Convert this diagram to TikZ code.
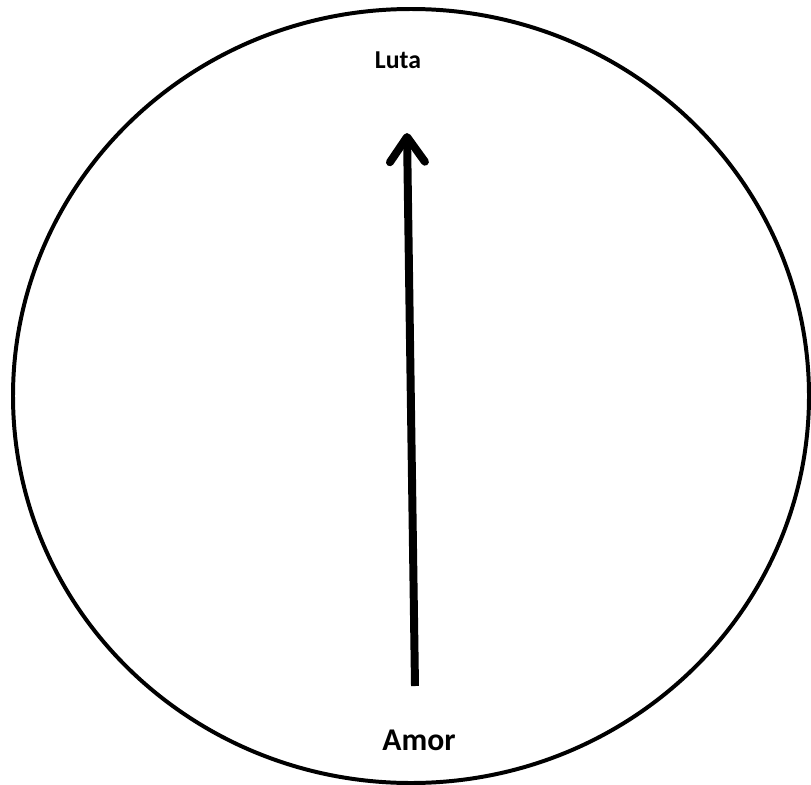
\documentclass[tikz,border=0pt]{standalone}
\usepackage{fontspec}
\setmainfont{Carlito}
\usetikzlibrary{arrows.meta}

\begin{document}
\begin{tikzpicture}[x=0.03cm, y=-0.03cm]
    \useasboundingbox (0,0) rectangle (811,785);

    % Cercle
    \draw[line width=3.4pt] (411,396) ellipse [x radius=398, y radius=387];

    % Etiquettes
    \node[font=\bfseries\fontsize{22}{26}\selectfont] (luta) at (398,60) {Luta};
    \node[font=\bfseries\fontsize{27}{32}\selectfont] (amor) at (419,740) {Amor};

    % Fleche
    \coordinate (base) at (415,686);
    \coordinate (pointe) at (407,133);
    \draw[line width=6.8pt, -{Straight Barb[length=0.75cm, width=1.05cm, line cap=round, line join=round]}] (base) -- (pointe);
\end{tikzpicture}
\end{document}
